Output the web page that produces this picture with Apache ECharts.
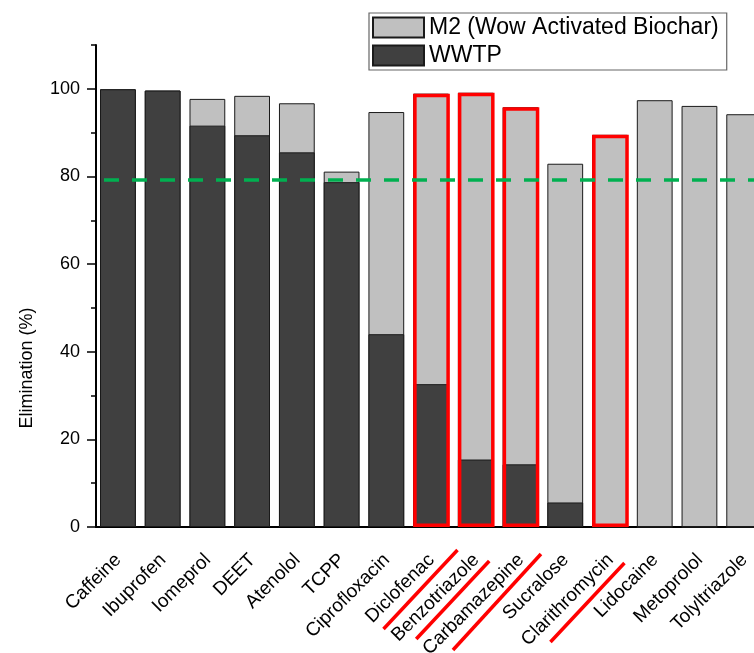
<!DOCTYPE html>
<html>
<head>
<meta charset="utf-8">
<script src="https://cdn.jsdelivr.net/npm/echarts@6/dist/echarts.min.js"></script>
<style>
  html, body { margin: 0; padding: 0; background: #fff; }
  #chart { width: 754px; height: 653px; }
</style>
</head>
<body>
<div id="chart"></div>
<script>
// Compounds along the x axis
const categories = ['Caffeine', 'Ibuprofen', 'Iomeprol', 'DEET', 'Atenolol', 'TCPP', 'Ciprofloxacin',
  'Diclofenac', 'Benzotriazole', 'Carbamazepine', 'Sucralose', 'Clarithromycin', 'Lidocaine',
  'Metoprolol', 'Tolyltriazole'];
// Elimination (%) with activated biochar (M2)
const m2Values = [99.9, 99.6, 97.7, 98.4, 96.7, 81.1, 94.7, 98.9, 99.1, 95.8, 82.9, 89.5, 97.4, 96.1, 94.2];
// Elimination (%) in the wastewater treatment plant
const wwtpValues = [99.9, 99.6, 91.6, 89.4, 85.5, 78.7, 44.0, 32.6, 15.4, 14.3, 5.6, 0, 0, 0, 0];
// Compounds highlighted in red
const highlighted = ['Diclofenac', 'Benzotriazole', 'Carbamazepine', 'Clarithromycin'];
// Target elimination level (dashed line)
const thresholdValue = 79.3;
// Y axis ticks
const majorTicks = [0, 20, 40, 60, 80, 100];
const minorTicks = [10, 30, 50, 70, 90, 110];

const FONT = '"Liberation Sans", Arial, sans-serif';
const chart = echarts.init(document.getElementById('chart'), null, { renderer: 'canvas' });

const outlineValues = categories.map((c, i) => highlighted.includes(c) ? m2Values[i] : null);

const option = {
  animation: false,
  backgroundColor: '#ffffff',
  textStyle: { fontFamily: FONT },
  grid: { left: 96, right: -13, top: 45, bottom: 126, containLabel: false, outerBoundsMode: 'none' },
  legend: {
    data: ['M2 (Wow Activated Biochar)', 'WWTP'],
    orient: 'vertical',
    left: 369, top: 13,
    itemWidth: 51, itemHeight: 20, itemGap: 5,
    padding: [3, 8, 3, 3],
    borderColor: '#666', borderWidth: 1.2,
    icon: 'rect',
    selectedMode: false,
    textStyle: { fontSize: 23, color: '#000', fontFamily: FONT }
  },
  xAxis: [{
    type: 'category',
    data: categories,
    boundaryGap: true,
    axisLine: { lineStyle: { color: '#000', width: 2 } },
    axisTick: { alignWithLabel: true, length: 10, lineStyle: { color: '#000', width: 1.5 } },
    axisLabel: { rotate: 45, margin: 30, fontSize: 19, color: '#000', fontFamily: FONT, interval: 0 }
  }, {
    type: 'category',
    data: categories,
    position: 'bottom',
    boundaryGap: true,
    axisLine: { show: false },
    axisTick: { length: 4, lineStyle: { color: '#000', width: 1.5 } },
    axisLabel: { show: false }
  }],
  yAxis: [{
    type: 'value',
    min: 0, max: 110,
    axisLine: { show: true, lineStyle: { color: '#000', width: 2 } },
    axisTick: { show: true, length: 9, customValues: majorTicks, lineStyle: { color: '#000', width: 1.5 } },
    axisLabel: { customValues: majorTicks, margin: 16, fontSize: 18, color: '#000', fontFamily: FONT },
    splitLine: { show: false }
  }, {
    type: 'value',
    min: 0, max: 110,
    position: 'left',
    axisLine: { show: false },
    axisTick: { show: true, length: 5, customValues: minorTicks, lineStyle: { color: '#000', width: 1.5 } },
    axisLabel: { show: false },
    splitLine: { show: false }
  }],
  series: [{
    name: 'M2 (Wow Activated Biochar)',
    type: 'bar',
    data: m2Values,
    barWidth: '80%',
    barGap: '-100%',
    itemStyle: { color: '#c0c0c0', borderColor: '#1a1a1a', borderWidth: 1 },
    z: 2
  }, {
    name: 'WWTP',
    type: 'bar',
    data: wwtpValues,
    barWidth: '80%',
    barGap: '-100%',
    itemStyle: { color: '#404040', borderColor: '#1a1a1a', borderWidth: 1 },
    z: 3
  }, {
    name: 'highlight',
    type: 'bar',
    data: outlineValues,
    barWidth: '82%',
    barGap: '-100%',
    itemStyle: { color: 'rgba(0,0,0,0)', borderColor: '#ff0000', borderWidth: 3.5 },
    z: 4,
    markLine: {
      silent: true,
      symbol: 'none',
      label: { show: false },
      lineStyle: { color: '#00b050', width: 3.5, type: [15, 13], dashOffset: 20 },
      data: [{ yAxis: thresholdValue }]
    }
  }]
};

chart.setOption(option);

// Y axis title and red underlines beneath highlighted compound names
const axisY = chart.convertToPixel({ yAxisIndex: 0 }, 0);
const underlineOffsets = {
  'Diclofenac':     [-48, 102, 26, 23],
  'Benzotriazole':  [-60, 112, 13, 34],
  'Carbamazepine':  [-68, 123, 20, 27],
  'Clarithromycin': [-60, 115, 14, 36]
};
const graphics = [{
  type: 'text',
  x: 27, y: 368,
  rotation: Math.PI / 2,
  style: {
    text: 'Elimination (%)',
    font: '18px ' + FONT,
    fill: '#000',
    align: 'center',
    verticalAlign: 'middle'
  }
}];
highlighted.forEach(name => {
  const cx = chart.convertToPixel({ xAxisIndex: 0 }, name);
  const o = underlineOffsets[name];
  graphics.push({
    type: 'line',
    shape: { x1: cx + o[0], y1: axisY + o[1], x2: cx + o[2], y2: axisY + o[3] },
    style: { stroke: '#ff0000', lineWidth: 3.5 },
    z: 10
  });
});
chart.setOption({ graphic: graphics });
</script>
</body>
</html>
